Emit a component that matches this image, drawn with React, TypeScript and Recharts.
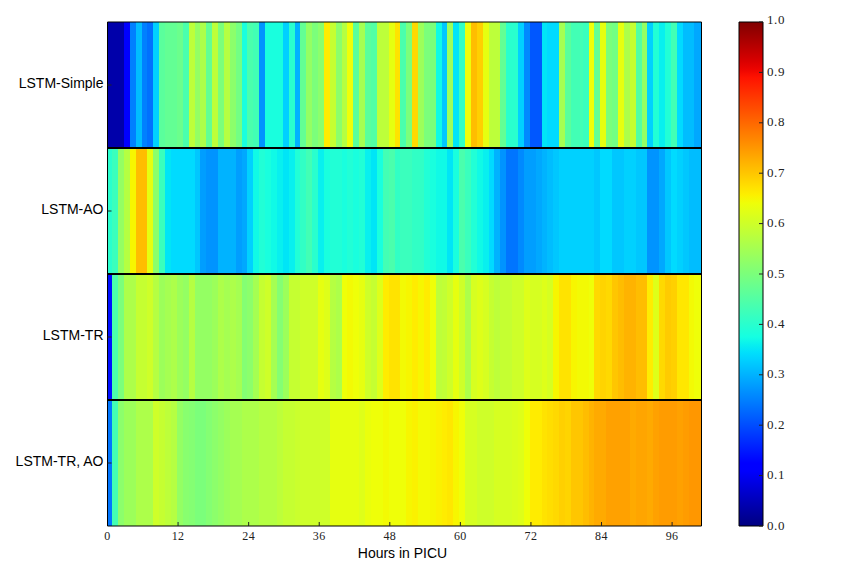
import React from 'react';
import { BarChart, Bar, XAxis, YAxis } from 'recharts';

const hours = Array.from({ length: 101 }, (_, i) => i);
const hourTicks = [0, 12, 24, 36, 48, 60, 72, 84, 96];
const colorTicks = [0, 0.1, 0.2, 0.3, 0.4, 0.5, 0.6, 0.7, 0.8, 0.9, 1];
const models = ['LSTM-Simple', 'LSTM-AO', 'LSTM-TR', 'LSTM-TR, AO'];
const xLabel = 'Hours in PICU';

const lstmSimple = [
  .037, .037, .037, .115, .25, .31, .25, .235, .33, .46,
  .47, .47, .48, .44, .58, .53, .56, .47, .58, .5,
  .57, .52, .49, .38, .44, .43, .27, .38, .38, .38,
  .33, .4, .3, .47, .53, .5, .52, .66, .59, .52,
  .57, .64, .46, .55, .46, .45, .58, .58, .63, .67,
  .44, .5, .68, .54, .5, .5, .37, .32, .54, .35,
  .41, .64, .71, .69, .63, .58, .58, .47, .4, .4,
  .33, .26, .21, .21, .35, .34, .34, .55, .46, .43,
  .43, .42, .64, .47, .63, .5, .49, .63, .56, .59,
  .45, .53, .33, .39, .36, .39, .43, .34, .31, .31,
  .29,
];
const lstmAO = [
  .4, .42, .53, .57, .65, .71, .71, .63, .52, .42,
  .35, .34, .34, .34, .34, .32, .28, .27, .27, .3,
  .3, .3, .28, .29, .33, .37, .39, .38, .37, .36,
  .35, .36, .39, .41, .43, .4, .36, .38, .39, .39,
  .38, .39, .38, .39, .36, .35, .38, .43, .44, .41,
  .42, .42, .41, .41, .39, .38, .37, .37, .35, .38,
  .44, .42, .39, .37, .36, .34, .3, .27, .24, .24,
  .26, .28, .28, .29, .3, .31, .32, .33, .33, .33,
  .33, .33, .33, .32, .34, .34, .32, .32, .33, .33,
  .32, .32, .27, .27, .29, .32, .34, .33, .32, .31,
  .31,
];
const lstmTR = [
  .14, .44, .5, .56, .56, .59, .59, .6, .57, .54,
  .55, .56, .54, .53, .57, .53, .53, .53, .54, .56,
  .55, .56, .55, .51, .52, .55, .59, .6, .55, .51,
  .54, .59, .59, .6, .6, .6, .63, .62, .57, .56,
  .64, .645, .64, .63, .6, .59, .62, .66, .67, .67,
  .645, .65, .66, .65, .66, .64, .58, .585, .6, .63,
  .6, .56, .61, .62, .61, .59, .58, .59, .59, .6,
  .6, .62, .61, .61, .62, .61, .65, .67, .67, .65,
  .645, .645, .64, .68, .685, .68, .7, .71, .72, .72,
  .71, .71, .66, .62, .68, .695, .69, .665, .665, .645,
  .64,
];
const lstmTRAO = [
  .24, .43, .52, .54, .54, .56, .56, .56, .6, .59,
  .58, .57, .53, .515, .51, .5, .5, .51, .52, .53,
  .54, .55, .55, .56, .56, .56, .57, .57, .57, .58,
  .59, .59, .595, .6, .6, .6, .6, .6, .63, .63,
  .63, .63, .63, .62, .635, .64, .64, .645, .64, .64,
  .64, .65, .655, .645, .645, .65, .655, .66, .665, .65,
  .64, .61, .61, .6, .6, .6, .61, .61, .61, .615,
  .62, .64, .66, .66, .67, .675, .68, .69, .685, .7,
  .7, .71, .72, .73, .73, .74, .74, .74, .74, .73,
  .735, .735, .73, .74, .745, .745, .745, .74, .745, .75,
  .75,
];
const rows = [lstmSimple, lstmAO, lstmTR, lstmTRAO];

const lerp = (v: number, pts: number[][]) => {
  for (let i = 1; i < pts.length; i++) {
    if (v <= pts[i][0]) {
      const [a, b] = [pts[i - 1], pts[i]];
      return a[1] + ((v - a[0]) / (b[0] - a[0])) * (b[1] - a[1]);
    }
  }
  return pts[pts.length - 1][1];
};
const jet = (v: number) => {
  const r = lerp(v, [[0, 0], [0.35, 0], [0.66, 1], [0.89, 1], [1, 0.5]]);
  const g = lerp(v, [[0, 0], [0.125, 0], [0.375, 1], [0.64, 1], [0.91, 0], [1, 0]]);
  const b = lerp(v, [[0, 0.5], [0.11, 1], [0.34, 1], [0.65, 0], [1, 0]]);
  return `rgb(${Math.round(r * 255)},${Math.round(g * 255)},${Math.round(b * 255)})`;
};
const stops = Array.from({ length: 65 }, (_, i) => i / 64);

const W = 864;
const LEFT = 107.5;
const PLOT_W = 594;
const ROW_H = 126;
const TOP = 22;
const BOTTOM = 50;
const sans = '"Liberation Sans", Arial, sans-serif';
const serif = '"Liberation Serif", serif';
const tickStroke = '#222';

// columns are slightly offset: the first is clipped, the last is wider
const cellWidth = (h: number) => (h === 0 ? 0.8 : h === 100 ? 1.2 : 1);

function ColorTick({ x, y, payload }: any) {
  const up = payload.value === 1 ? 3 : 1;
  return (
    <text x={x} y={y - up} dy="0.355em" fill="#222" fontFamily={serif} fontSize={13} letterSpacing={0.6} textAnchor="start">
      {payload.value.toFixed(1)}
    </text>
  );
}

function Row({ index }: { index: number }) {
  const values = rows[index];
  const datum: Record<string, number | string> = { model: models[index] };
  hours.forEach((h) => { datum[`h${h}`] = cellWidth(h); });
  const first = index === 0;
  const last = index === rows.length - 1;
  return (
    <div style={{ position: 'absolute', left: 0, top: ROW_H * index }}>
      <BarChart
        width={W}
        height={TOP + ROW_H + BOTTOM}
        layout="vertical"
        data={[datum]}
        barCategoryGap={0}
        margin={{ top: 0, right: 0, bottom: 0, left: 0 }}
      >
        <XAxis
          xAxisId="bottom"
          type="number"
          orientation="bottom"
          domain={[0, 101]}
          allowDataOverflow
          ticks={hourTicks}
          interval={0}
          height={BOTTOM}
          tickSize={last ? -4 : 0}
          tickLine={last ? { stroke: tickStroke, strokeWidth: 1 } : false}
          tickMargin={9}
          axisLine={{ stroke: '#000', strokeWidth: last ? 1 : 2 }}
          tick={last ? { fill: '#222', fontFamily: serif, fontSize: 12, letterSpacing: 0.4 } : false}
          label={last ? { value: xLabel, position: 'insideBottom', offset: 18.5, dx: -2, fill: '#000', fontFamily: sans, fontSize: 14 } : undefined}
        />
        <XAxis
          xAxisId="top"
          type="number"
          orientation="top"
          domain={[0, 101]}
          allowDataOverflow
          ticks={hourTicks}
          interval={0}
          height={TOP}
          tickSize={first ? -4 : 0}
          tickLine={first ? { stroke: tickStroke, strokeWidth: 1 } : false}
          axisLine={{ stroke: '#000', strokeWidth: first ? 1 : 2 }}
          tick={false}
        />
        <YAxis
          yAxisId="left"
          type="category"
          dataKey="model"
          width={LEFT}
          tickSize={-4}
          tickMargin={8}
          tickLine={{ stroke: tickStroke, strokeWidth: 1 }}
          axisLine={{ stroke: '#000', strokeWidth: 1 }}
          tick={{ fill: '#000', fontFamily: sans, fontSize: 14, dy: -2 }}
        />
        <YAxis
          yAxisId="right"
          type="category"
          dataKey="model"
          orientation="right"
          width={W - LEFT - PLOT_W}
          tickSize={-4}
          tickLine={{ stroke: tickStroke, strokeWidth: 1 }}
          axisLine={{ stroke: '#000', strokeWidth: 1 }}
          tick={false}
        />
        {hours.map((h) => (
          <Bar
            key={h}
            xAxisId="bottom"
            yAxisId="left"
            dataKey={`h${h}`}
            stackId="hours"
            fill={jet(values[h])}
            shapeRendering="crispEdges"
            isAnimationActive={false}
          />
        ))}
      </BarChart>
    </div>
  );
}

function ColorBar() {
  const datum = { name: 'scale', level: 1 };
  return (
    <div style={{ position: 'absolute', left: 0, top: 0 }}>
      <BarChart
        width={W}
        height={TOP + ROW_H * 4 + BOTTOM}
        data={[datum]}
        barCategoryGap={0}
        margin={{ top: 0, right: 0, bottom: 0, left: 0 }}
      >
        <defs>
          <linearGradient id="jetScale" x1="0" y1="1" x2="0" y2="0">
            {stops.map((s) => (
              <stop key={s} offset={s} stopColor={jet(s)} />
            ))}
          </linearGradient>
        </defs>
        <XAxis xAxisId="bottom" dataKey="name" height={BOTTOM} tick={false} tickLine={false} axisLine={{ stroke: '#000', strokeWidth: 1 }} />
        <XAxis xAxisId="top" dataKey="name" orientation="top" height={TOP} tick={false} tickLine={false} axisLine={{ stroke: '#000', strokeWidth: 1 }} />
        <YAxis yAxisId="left" type="number" domain={[0, 1]} ticks={colorTicks} width={739} tick={false} tickLine={false} axisLine={{ stroke: '#000', strokeWidth: 1 }} />
        <YAxis
          yAxisId="right"
          type="number"
          orientation="right"
          domain={[0, 1]}
          ticks={colorTicks}
          interval={0}
          width={W - 763}
          tickSize={-4}
          tickMargin={8}
          tickLine={{ stroke: tickStroke, strokeWidth: 1 }}
          axisLine={{ stroke: '#000', strokeWidth: 1 }}
          tick={<ColorTick />}
        />
        <Bar xAxisId="bottom" yAxisId="right" dataKey="level" fill="url(#jetScale)" isAnimationActive={false} />
      </BarChart>
    </div>
  );
}

export default function App() {
  return (
    <div style={{ position: 'absolute', left: 0, top: 0, width: W, height: 576, background: '#fff', overflow: 'hidden' }}>
      {rows.map((_, i) => (
        <Row key={i} index={i} />
      ))}
      <ColorBar />
    </div>
  );
}
